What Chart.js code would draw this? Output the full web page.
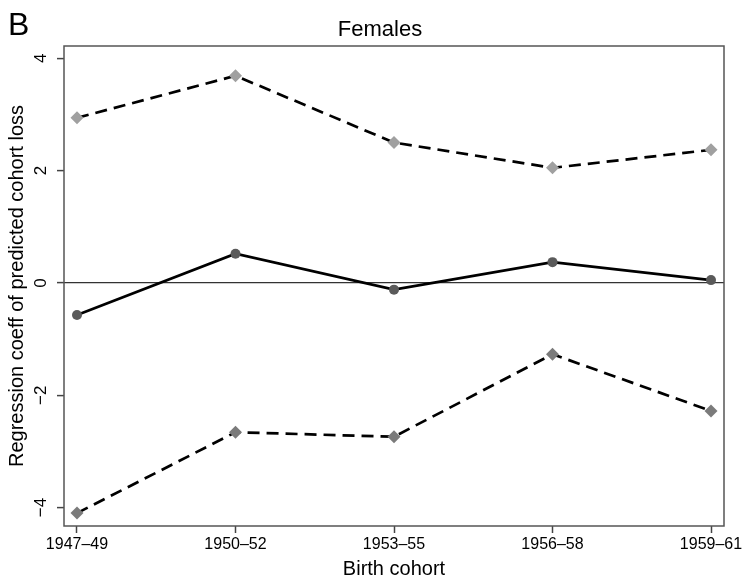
<!DOCTYPE html>
<html>
<head>
<meta charset="utf-8">
<script src="https://cdn.jsdelivr.net/npm/chart.js@4.4.1/dist/chart.umd.min.js"></script>
<style>
  html, body { margin: 0; padding: 0; background: #ffffff; }
  canvas { display: block; }
</style>
</head>
<body>
<canvas id="c" width="744" height="583"></canvas>
<script>
// ---- Data ----
const cohorts = ["1947–49", "1950–52", "1953–55", "1956–58", "1959–61"];
const upperCI = [2.94, 3.69, 2.50, 2.05, 2.37];
const estimate = [-0.57, 0.52, -0.12, 0.37, 0.05];
const lowerCI = [-4.10, -2.66, -2.74, -1.27, -2.28];
const yTicks = [-4, -2, 0, 2, 4];
const panelLetter = "B";
const panelTitle = "Females";
const xTitle = "Birth cohort";
const yTitle = "Regression coeff of predicted cohort loss";

const FONT = "'Liberation Sans', Arial, Helvetica, sans-serif";
const toPts = arr => arr.map((v, i) => ({ x: i, y: v }));

const framePlugin = {
  id: 'frame',
  beforeDraw(chart) {
    const ctx = chart.ctx;
    ctx.save();
    ctx.fillStyle = '#ffffff';
    ctx.fillRect(0, 0, chart.width, chart.height);
    ctx.restore();
  },
  afterDraw(chart) {
    const ctx = chart.ctx;
    const a = chart.chartArea;
    ctx.save();
    ctx.strokeStyle = '#555555';
    ctx.lineWidth = 1.5;
    ctx.strokeRect(a.left, a.top, a.right - a.left, a.bottom - a.top);
    ctx.fillStyle = '#000000';
    ctx.textBaseline = 'alphabetic';
    ctx.textAlign = 'left';
    ctx.font = "32px " + FONT;
    ctx.fillText(panelLetter, 8, 35);
    ctx.textAlign = 'center';
    ctx.font = "22px " + FONT;
    ctx.fillText(panelTitle, 380, 36);
    ctx.restore();
  }
};

new Chart(document.getElementById('c'), {
  type: 'line',
  data: {
    datasets: [
      {
        label: 'Upper',
        data: toPts(upperCI),
        borderColor: '#000000',
        borderWidth: 2.7,
        borderDash: [12, 7],
        pointStyle: 'rectRot',
        pointRadius: 6.5,
        pointBackgroundColor: '#a0a0a0',
        pointBorderColor: '#a0a0a0',
        pointBorderWidth: 0,
        tension: 0
      },
      {
        label: 'Estimate',
        data: toPts(estimate),
        borderColor: '#000000',
        borderWidth: 2.7,
        pointStyle: 'circle',
        pointRadius: 5,
        pointBackgroundColor: '#5a5a5a',
        pointBorderColor: '#5a5a5a',
        pointBorderWidth: 0,
        tension: 0
      },
      {
        label: 'Lower',
        data: toPts(lowerCI),
        borderColor: '#000000',
        borderWidth: 2.7,
        borderDash: [12, 7],
        pointStyle: 'rectRot',
        pointRadius: 6.5,
        pointBackgroundColor: '#7b7b7b',
        pointBorderColor: '#7b7b7b',
        pointBorderWidth: 0,
        tension: 0
      }
    ]
  },
  options: {
    responsive: false,
    devicePixelRatio: 1,
    animation: false,
    layout: { padding: { left: 0, right: 20, top: 46, bottom: 0 } },
    plugins: {
      legend: { display: false },
      tooltip: { enabled: false },
      title: { display: false }
    },
    scales: {
      x: {
        type: 'linear',
        min: -0.082,
        max: 4.082,
        afterBuildTicks: (scale) => { scale.ticks = cohorts.map((c, i) => ({ value: i })); },
        afterFit: (scale) => { scale.height = 57; scale.paddingLeft = 0; scale.paddingRight = 0; },
        border: { display: false },
        grid: { drawOnChartArea: false, drawTicks: true, tickLength: 7, tickColor: '#444444', tickWidth: 1.5 },
        ticks: {
          autoSkip: false,
          maxRotation: 0,
          minRotation: 0,
          padding: 2,
          color: '#000000',
          font: { family: FONT, size: 16 },
          callback: (v) => cohorts[v] !== undefined ? cohorts[v] : ''
        },
        title: {
          display: true,
          text: xTitle,
          color: '#000000',
          font: { family: FONT, size: 20 },
          padding: { top: 0, bottom: 2 }
        }
      },
      y: {
        type: 'linear',
        min: -4.33,
        max: 4.22,
        afterBuildTicks: (scale) => { scale.ticks = yTicks.map(v => ({ value: v })); },
        afterFit: (scale) => { scale.width = 64; scale.paddingTop = 0; scale.paddingBottom = 0; },
        border: { display: false },
        grid: {
          drawOnChartArea: true,
          color: (ctx) => (ctx.tick && ctx.tick.value === 0) ? '#333333' : 'rgba(0,0,0,0)',
          lineWidth: 1.2,
          tickLength: 7,
          tickColor: '#444444',
          tickWidth: 1.5
        },
        ticks: {
          autoSkip: false,
          minRotation: 90,
          maxRotation: 90,
          crossAlign: 'center',
          padding: 6,
          color: '#000000',
          font: { family: FONT, size: 17 },
          callback: (v) => v < 0 ? '\u2212' + Math.abs(v) : String(v)
        },
        title: {
          display: true,
          text: yTitle,
          color: '#000000',
          font: { family: FONT, size: 20 },
          padding: { top: 5, bottom: 0 }
        }
      }
    }
  },
  plugins: [framePlugin]
});
</script>
</body>
</html>
